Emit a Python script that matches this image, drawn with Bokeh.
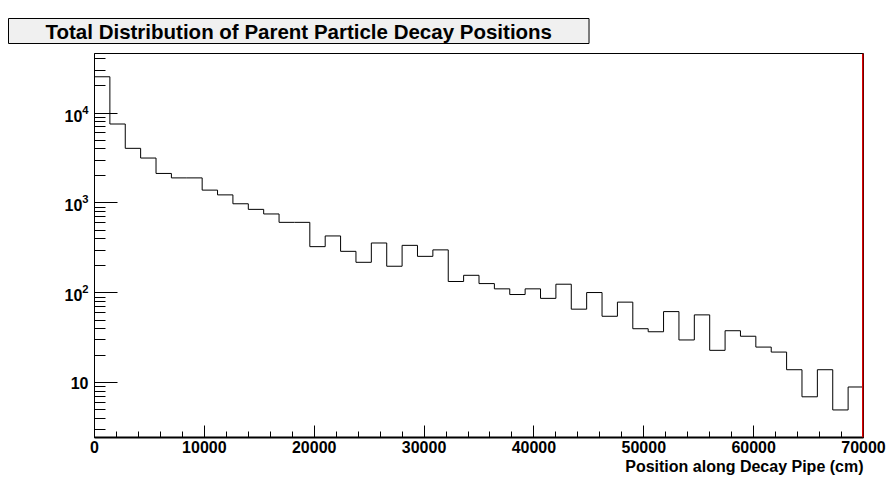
import numpy as np
from bokeh.plotting import figure
from bokeh.models import (Range1d, FixedTicker, Span, SingleIntervalTicker,
                          LogTickFormatter, Title)
from bokeh.embed import file_html
from bokeh.resources import INLINE

title_text = "Total Distribution of Parent Particle Decay Positions"
x_label = "Position along Decay Pipe (cm)"
bin_width = 1400
n_bins = 50
counts = [25300, 7550, 4050, 3160, 2130, 1900, 1900, 1390, 1230, 980,
          849, 755, 609, 609, 327, 430, 290, 219, 359, 198,
          338, 255, 301, 134, 157, 127, 111, 96, 111, 87,
          125, 66, 101, 55, 79, 40, 37, 62, 30, 57,
          23, 38, 33, 25, 22, 14, 7, 14, 5, 9]
y_major = [10, 100, 1000, 10000]
y_min, y_max = 2.47, 45900

edges = np.arange(n_bins + 1) * bin_width
xs = list(edges[:-1]) + [edges[-1]]
ys = list(counts) + [counts[-1]]

FONT = "Liberation Sans"

p = figure(output_backend="svg", toolbar_location=None,
           frame_width=769, frame_height=384,
           min_border_left=94, min_border_right=28, min_border_top=53, min_border_bottom=42,
           x_range=Range1d(0, edges[-1]), y_range=Range1d(y_min, y_max),
           y_axis_type="log")
p.background_fill_color = "white"
p.border_fill_color = "white"
p.grid.visible = False
p.outline_line_color = "black"
p.outline_line_width = 1

p.step(xs, ys, mode="after", line_color="black", line_width=1)

p.add_layout(Span(location=edges[-1], dimension="height", line_color="#dd0000", line_width=3))

# title box (ROOT style)
t = Title(text=title_text, align="left", offset=-86, standoff=16, vertical_align="top",
          text_font=FONT, text_font_style="bold", text_font_size="20.5px",
          text_color="black", background_fill_color="#f0f0f0",
          border_line_color="black", border_line_width=1,
          padding=(37, 1))
p.add_layout(t, "above")

# axes
xa = p.xaxis[0]
xa.ticker = SingleIntervalTicker(interval=10000, num_minor_ticks=5)
xa.major_tick_in = 12
xa.major_tick_out = 0
xa.minor_tick_in = 6
xa.minor_tick_out = 0
xa.axis_line_width = 2
xa.major_label_standoff = 3
xa.major_label_text_font = FONT
xa.major_label_text_font_style = "bold"
xa.major_label_text_font_size = "16px"
xa.major_label_text_color = "black"

# x-axis title, right aligned to the end of the axis (ROOT style)
xt = Title(text=x_label, align="right", offset=0, standoff=0,
           text_font=FONT, text_font_style="bold", text_font_size="16px",
           text_color="black")
p.add_layout(xt, "below")

ya = p.yaxis[0]
minor = [m * 10 ** e for e in range(0, 5) for m in range(2, 10)]
ya.ticker = FixedTicker(ticks=y_major, minor_ticks=minor)
ya.formatter = LogTickFormatter()
ya.major_label_overrides = {10.0: "10"}
ya.major_tick_in = 23
ya.major_tick_out = 0
ya.minor_tick_in = 11
ya.minor_tick_out = 0
ya.axis_line_width = 1
ya.major_label_standoff = 6
ya.major_label_text_font = FONT
ya.major_label_text_font_style = "bold"
ya.major_label_text_font_size = "16px"
ya.major_label_text_color = "black"

open("out.html", "w").write(file_html(p, INLINE))
